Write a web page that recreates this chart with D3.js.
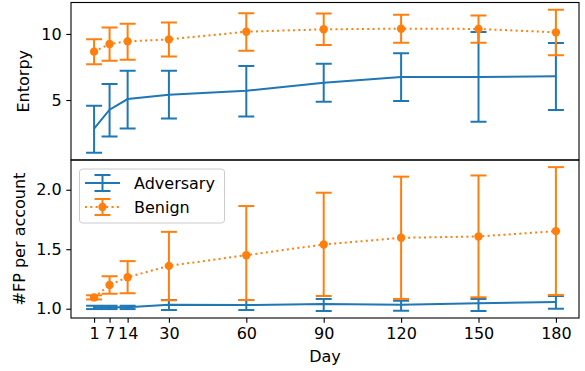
<!DOCTYPE html>
<html>
<head>
<meta charset="utf-8">
<script src="https://cdn.jsdelivr.net/npm/d3@7"></script>
<style>
html,body{margin:0;padding:0;background:#fff;}
svg{display:block;font-family:"DejaVu Sans",sans-serif;}
</style>
</head>
<body>
<svg id="chart" width="585" height="371"></svg>
<script>
// ---- data ----
const days = [1, 7, 14, 30, 60, 90, 120, 150, 180];
const xTickLabels = ["1", "7", "14", "30", "60", "90", "120", "150", "180"];
const seriesNames = ["Adversary", "Benign"];

// Entropy panel
const entAdvMean = [2.83, 4.27, 5.07, 5.40, 5.70, 6.31, 6.74, 6.74, 6.79];
const entAdvLow  = [1.00, 2.24, 2.85, 3.60, 3.76, 4.87, 4.92, 3.36, 4.24];
const entAdvHigh = [4.57, 6.21, 7.22, 7.22, 7.58, 7.75, 8.53, 10.15, 9.32];
const entBenMean = [8.66, 9.24, 9.44, 9.59, 10.17, 10.35, 10.40, 10.38, 10.12];
const entBenLow  = [7.70, 7.98, 8.05, 8.30, 8.73, 9.17, 9.34, 9.34, 8.38];
const entBenHigh = [9.59, 10.48, 10.78, 10.86, 11.56, 11.54, 11.46, 11.39, 11.84];
const entTicks = [5, 10];

// #FP per account panel
const fpAdvMean = [1.012, 1.012, 1.012, 1.034, 1.031, 1.040, 1.034, 1.045, 1.056];
const fpAdvLow  = [0.997, 0.997, 0.997, 0.989, 0.989, 0.981, 0.983, 0.981, 1.000];
const fpAdvHigh = [1.025, 1.025, 1.025, 1.073, 1.073, 1.082, 1.067, 1.082, 1.107];
const fpBenMean = [1.095, 1.200, 1.265, 1.360, 1.450, 1.540, 1.596, 1.607, 1.652];
const fpBenLow  = [1.078, 1.126, 1.130, 1.071, 1.073, 1.107, 1.082, 1.096, 1.115];
const fpBenHigh = [1.113, 1.273, 1.400, 1.646, 1.863, 1.975, 2.110, 2.120, 2.190];
const fpTicks = [1.0, 1.5, 2.0];

// ---- layout ----
const colors = ["#1f77b4", "#ff7f0e"];
const L = 71, R = 579;
const p1 = {top: 2.5, bottom: 160, labelX: 28.5};
const p2 = {top: 160, bottom: 318, labelX: 24.5};
const fs = 16;

const svg = d3.select("#chart");
const x = d3.scaleLinear().domain([-7.95, 188.95]).range([L, R]);
const y1 = d3.scaleLinear().domain([0.46, 12.38]).range([p1.bottom, p1.top]);
const y2 = d3.scaleLinear().domain([0.922, 2.25]).range([p2.bottom, p2.top]);

function rows(mean, low, high) {
  return days.map((d, i) => ({d, m: mean[i], lo: low[i], hi: high[i]}));
}

function drawSeries(g, y, data, color, dotted) {
  const cap = 8;
  const eb = g.append("g");
  data.forEach(r => {
    eb.append("line").attr("x1", x(r.d)).attr("x2", x(r.d))
      .attr("y1", y(r.lo)).attr("y2", y(r.hi))
      .attr("stroke", color).attr("stroke-width", 2);
    [r.lo, r.hi].forEach(v => {
      eb.append("line").attr("x1", x(r.d) - cap).attr("x2", x(r.d) + cap)
        .attr("y1", y(v)).attr("y2", y(v))
        .attr("stroke", color).attr("stroke-width", 2);
    });
  });
  const line = d3.line().x(r => x(r.d)).y(r => y(r.m));
  g.append("path").datum(data).attr("d", line)
    .attr("fill", "none").attr("stroke", color).attr("stroke-width", 2)
    .attr("stroke-dasharray", dotted ? "2,3.3" : null);
  if (dotted) {
    g.selectAll(null).data(data).enter().append("circle")
      .attr("cx", r => x(r.d)).attr("cy", r => y(r.m)).attr("r", 4.2)
      .attr("fill", color);
  }
}

function panel(p, y, ticks, fmt, label, adv, ben, showX) {
  const g = svg.append("g");
  const clip = "clip" + Math.round(p.top);
  svg.append("clipPath").attr("id", clip).append("rect")
    .attr("x", L).attr("y", p.top).attr("width", R - L).attr("height", p.bottom - p.top);
  const plot = g.append("g").attr("clip-path", `url(#${clip})`);
  drawSeries(plot, y, adv, colors[0], false);
  drawSeries(plot, y, ben, colors[1], true);

  const ya = g.append("g").attr("transform", `translate(${L},0)`)
    .call(d3.axisLeft(y).tickValues(ticks).tickFormat(fmt).tickSize(4.7).tickPadding(4.7));
  ya.select(".domain").remove();
  ya.selectAll("text").attr("font-size", fs).attr("font-family", "DejaVu Sans").attr("fill", "#000");
  ya.selectAll("line").attr("stroke", "#000").attr("stroke-width", 1.1);

  if (showX) {
    const xa = g.append("g").attr("transform", `translate(0,${p.bottom})`)
      .call(d3.axisBottom(x).tickValues(days).tickFormat((d, i) => xTickLabels[i]).tickSize(4.7).tickPadding(4.7));
    xa.select(".domain").remove();
    xa.selectAll("text").attr("font-size", fs).attr("font-family", "DejaVu Sans").attr("fill", "#000");
    xa.selectAll("line").attr("stroke", "#000").attr("stroke-width", 1.1);
  }

  g.append("rect").attr("x", L).attr("y", p.top).attr("width", R - L).attr("height", p.bottom - p.top)
    .attr("fill", "none").attr("stroke", "#000").attr("stroke-width", 1.1);

  g.append("text").attr("transform", `translate(${p.labelX},${(p.top + p.bottom) / 2}) rotate(-90)`)
    .attr("text-anchor", "middle").attr("font-size", fs).text(label);
}

panel(p1, y1, entTicks, d3.format("d"), "Entorpy",
  rows(entAdvMean, entAdvLow, entAdvHigh), rows(entBenMean, entBenLow, entBenHigh), false);
panel(p2, y2, fpTicks, d3.format(".1f"), "#FP per account",
  rows(fpAdvMean, fpAdvLow, fpAdvHigh), rows(fpBenMean, fpBenLow, fpBenHigh), true);

svg.append("text").attr("x", (L + R) / 2).attr("y", 362)
  .attr("text-anchor", "middle").attr("font-size", fs).text("Day");

// legend
const lg = svg.append("g");
lg.append("rect").attr("x", 79.5).attr("y", 169).attr("width", 145).attr("height", 54).attr("rx", 3)
  .attr("fill", "#fff").attr("fill-opacity", 0.8).attr("stroke", "#ccc").attr("stroke-width", 1);
seriesNames.forEach((name, i) => {
  const cy = 183 + i * 24, c = colors[i];
  lg.append("line").attr("x1", 85).attr("x2", 120).attr("y1", cy).attr("y2", cy)
    .attr("stroke", c).attr("stroke-width", 2).attr("stroke-dasharray", i ? "2,3.3" : null);
  lg.append("line").attr("x1", 102.5).attr("x2", 102.5).attr("y1", cy - 8).attr("y2", cy + 8)
    .attr("stroke", c).attr("stroke-width", 2);
  [cy - 8, cy + 8].forEach(v => lg.append("line").attr("x1", 94.5).attr("x2", 110.5)
    .attr("y1", v).attr("y2", v).attr("stroke", c).attr("stroke-width", 2));
  if (i) lg.append("circle").attr("cx", 102.5).attr("cy", cy).attr("r", 4.2).attr("fill", c);
  lg.append("text").attr("x", 134).attr("y", cy).attr("dy", "0.35em").attr("font-size", fs).text(name);
});
</script>
</body>
</html>
